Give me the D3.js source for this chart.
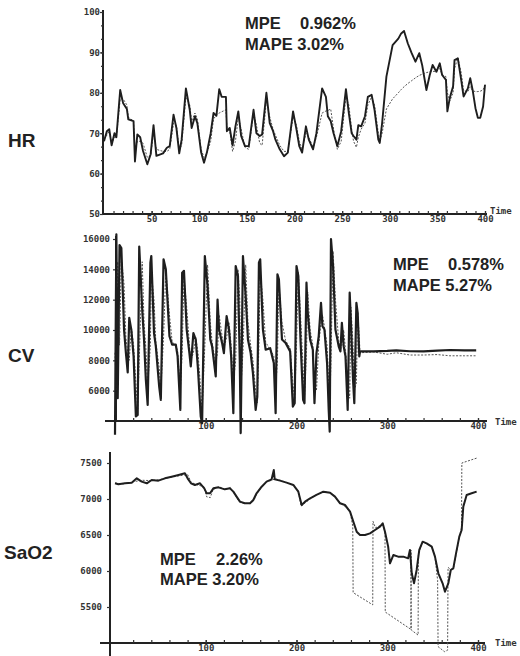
<!DOCTYPE html>
<html><head><meta charset="utf-8">
<script src="https://cdn.jsdelivr.net/npm/d3@7"></script>
<style>
body{margin:0;background:#fff;}
svg{display:block;}
.tick text{font-family:"DejaVu Sans Mono",monospace;font-weight:bold;font-size:9px;fill:#333;}
.big{font-family:"Liberation Sans",Arial,sans-serif;font-weight:bold;fill:#222;}
.tm{font-family:"DejaVu Sans Mono",monospace;font-weight:bold;font-size:9px;fill:#333;}
</style></head><body>
<svg id="chart" width="520" height="656"></svg>
<script>
// ---------- DATA ----------
const panelLabels = ["HR", "CV", "SaO2"];
const mpeValues = ["0.962%", "0.578%", "2.26%"];
const mapeValues = ["3.02%", "5.27%", "3.20%"];

const hrTime = [0,3,5.5,8,11,13,17,20,24,25.5,31,32.5,35,38,41,45.5,49,52,55,62,66,69,73,76,79,81.5,86,90,92,95.5,98,102,105,108,112,115,118,121,123.5,128,129,132,135,138,141,144,148,152,157,160,163.5,166,170.5,174,177.5,180,184.5,189,193,198.5,202,205,208,212,215,219.5,223,229,233,235,238,241,245,249,254,257,260,262,265,267,270,274,277,281,284,288,289.5,292,296.5,303,309,312,315,319,323,327,331,334,338.5,342,345,349,352.5,355,359,360.5,363,366.5,368,371.5,375,377.5,382,384.5,387,390,392.5,395,398,400];
const hrActual = [68,70.5,71,67,70,69,80.7,77.5,76,73.4,
 73,63,69.7,69,65.6,62.3,64.8,72,64.4,65,
 66.4,66.8,74.6,71.3,65,68.4,81.1,75.8,71.3,74.2,
 72.5,65.2,62.7,65.2,70,75,74.3,80.9,79,79,
 70.5,71.3,67,71.7,75.4,69.3,66.8,66.8,75.8,70,
 69.3,69.7,80,72.5,70.5,68.4,66,64.3,65.2,75.4,
 71,66.8,65.2,71.7,68.4,66,70,81.1,79,74.2,
 73,70,66.8,70.5,80.9,75,70,69.3,68.4,72,
 71.7,74.2,79,79.5,75.8,68.4,67.6,72.5,84,91.8,
 93.4,94.7,95.3,92.2,89.8,87.7,89.8,86.9,80.7,84.4,
 86.9,85.2,87.3,84.4,83.2,75.4,78.7,81.6,88.1,88.5,
 83.2,79.1,81.1,83.6,80.7,76.2,73.8,73.8,76.6,82];
const hrPred = [68.5,69.5,70.5,67.5,69,69,78.5,78.5,77,74,
 73,66,68,68,67.5,64,64.5,70,66,65.5,
 65.5,66,72.5,72,66,67,79,77,73,75,
 73.5,66,64,65,68,73.5,74.5,75,75.3,75.8,
 71.5,70.5,65.5,68,74,71,66.5,66,75,72,
 67.5,67,78,74,71,69.5,67,65.5,65.5,74,
 72,68,66,70,69,66.5,69,75,75.5,75.6,
 76,71,66,68,79,77,71,68,66.5,69,
 71,72.5,77,79,77,70,68,70,76,78.5,
 80,80.8,81.5,82.3,83,83.7,84.3,84.6,85,85.2,
 85.3,85.3,86,84.5,84,80,78,80,86,88.7,
 85,80.5,80.3,81.5,80.5,80.3,80.3,80.4,80.7,82];
const hrXTicks = [50,100,150,200,250,300,350,400];
const hrYTicks = [50,60,70,80,90,100];

const cvTime = [0,1.5,3,5,7,10,12,14,15.7,18,
 20.5,23,25,26.7,30,32,34,36,39,40,
 43,45,48.7,50.5,53.5,56,60,63,67,69,
 72,74,76,79,82,83.5,86.4,89,91.5,94.5,
 96,99,102,105,107,111,113,114.7,118,120,
 123,125.6,128,130.4,133,135.5,137.5,138.5,141,144,
 146.5,149.5,152,155,156.8,158.6,160,163,166,171,
 175,177,179,180.6,184,188,193,196,198,200,
 202,204.4,207.3,208.8,211,212.4,215,218,219.8,222,
 224.5,227,228.6,230.8,233.7,235.5,236.6,238,240.3,242.9,
 246.5,248.4,250,252,254,256.4,258.6,260,262.3,263.7,
 266,267.4,269.2,270,285,300,310,325,340,355,
 369,385,398];
const cvActual = [3100,16300,5500,15600,15400,10000,8500,7200,10800,10000,
 8260,4300,4400,15500,11350,9360,6720,5060,14440,14880,
 9800,8920,6270,5390,14660,14000,9590,9030,9030,8260,
 4730,13780,13900,10030,8480,7600,9800,9370,7380,4290,
 3850,14880,12900,9370,8920,6940,12000,10030,9150,8480,
 10910,10030,8260,4510,14220,13560,8000,3200,14880,12240,
 9370,8480,7160,4730,5610,14440,14660,10030,8700,8800,
 7820,4510,13670,13340,9370,9150,8590,4950,5170,14220,
 13560,9370,5390,5170,13120,11130,9370,8700,5170,8480,
 9590,11790,10250,10030,7820,4730,3300,16000,14220,10030,
 8920,8590,10470,8920,8260,4730,12460,10470,6720,5170,
 11790,11130,8260,8590,8590,8620,8660,8600,8590,8640,
 8680,8660,8660];
const cvPred = [8500,6000,14500,9000,14800,13000,9500,8500,8000,10200,
 9000,6500,4800,8000,14500,10500,8800,6200,9000,13800,
 12000,9200,7500,6000,9500,14000,11000,9200,9000,8600,
 6000,8500,13500,11500,9000,8000,8500,9500,8500,6000,
 4500,9000,14300,10500,9200,7800,8500,11000,9600,8800,
 9500,10500,9000,6500,8000,14000,12000,6000,8500,14300,
 10500,9000,8000,6000,5200,9000,13800,12000,9200,8700,
 8300,6000,8000,13000,10500,9300,8800,6500,5300,9000,
 13800,11000,7500,5500,8500,12500,10000,9000,6500,6000,
 9000,10500,11000,10200,9000,6500,4800,8000,15200,12000,
 9300,8700,9000,10000,8700,6500,5500,11500,9000,6000,
 6500,11200,9500,8500,8550,8400,8500,8350,8350,8380,
 8300,8300,8300];
const cvXTicks = [100,200,300,400];
const cvYTicks = [6000,8000,10000,12000,14000,16000];

const saTime = [0,3.7,11,18.4,24,29.4,35,40.4,47.8,55,
 62.4,70,77,80,83.7,88,93.7,98.4,101,104.7,
 108.4,114,121,126.7,130.4,134,137.7,143,148.8,152.4,
 156,161.6,167,172.6,175,176,181.8,189,196.5,202,
 205.7,209.4,215,222,229.6,237,242.4,248,253.4,259,
 262.6,266.3,270,275.5,281,286.5,292,295,297.5,301,
 303,306.7,312,317.7,323,325,327,329.5,332.4,335.3,
 339,343.4,349,352.6,356.3,361,363.6,367.3,370,372.8,
 375.8,379.4,382,383.8,387.5,393,398.5];
const saActual = [7218,7204,7218,7227,7287,7241,7218,7264,7255,7287,
 7310,7334,7357,7287,7218,7195,7218,7148,7079,7079,
 7148,7162,7134,7148,7102,7033,6963,6940,6940,6986,
 7079,7171,7241,7273,7403,7273,7255,7227,7195,7102,
 6917,6963,7010,7056,7102,7088,7033,6940,6917,6824,
 6685,6546,6500,6500,6523,6570,6616,6662,6546,6338,
 6107,6222,6199,6199,6176,6292,5968,5829,6014,6292,
 6407,6384,6338,6199,5968,5829,5713,5829,6014,6037,
 6245,6477,6570,6894,7056,7079,7102];
const saPredTime = [0,10,20,30,40,50,60,70,80,84,
 90,98,101,105,108,115,121,127,131,135,
 138,143,149,153,156,162,167,173,176,182,
 189,196,202,205,209,215,222,230,237,242,
 248,253,259,262,262.4,284,284.3,287,292,295,
 297.5,297.8,326,326.2,326.5,334,334.3,336,339,343.4,
 349,352.6,355.5,356,363,366.5,367,370,373,376,
 379.4,381.8,382.2,399];
const saPred = [7220,7210,7240,7260,7255,7270,7300,7320,7340,7230,
 7200,7170,7030,7020,7130,7170,7130,7160,7090,7000,
 6950,6940,6935,6980,7070,7170,7240,7260,7280,7260,
 7230,7200,7110,6900,6940,7000,7060,7100,7090,7040,
 6950,6900,6830,6620,5700,5530,6690,6600,6630,6660,
 6540,5430,5190,6290,5180,5110,6250,6300,6400,6380,
 6340,6200,5870,4950,4880,4900,6050,6020,6040,6240,
 6470,6600,7500,7570];
const saXTicks = [100,200,300,400];
const saYTicks = [5500,6000,6500,7000,7500];

// ---------- LAYOUT ----------
const panels = [
 {time:hrTime, actual:hrActual, predTime:hrTime, pred:hrPred,
  xDomain:[0,400], xRange:[104,485], yDomain:[50,100], yRange:[214,12],
  xTicks:hrXTicks, xMinorStep:10, yTicks:hrYTicks, yMinorStep:10/3,
  axisXExt:[103,487], axisYExt:[10,214], yAxisX:103, yPad:0, lw:1.9,
  labelX:8, labelY:147, mpeX:245, numX:300, mpeY:[29,50], timeX:490, timeY:214},
 {time:cvTime, actual:cvActual, predTime:cvTime, pred:cvPred,
  xDomain:[0,400], xRange:[115,478], yDomain:[4000,16000], yRange:[421,239],
  xTicks:cvXTicks, xMinorStep:20, yTicks:cvYTicks, yMinorStep:null,
  axisXExt:[105,487], axisYExt:[236,421], yAxisX:116, yPad:3, lw:2.2,
  labelX:8, labelY:362, mpeX:393, numX:448, mpeY:[270,291], timeX:495, timeY:425},
 {time:saTime, actual:saActual, predTime:saPredTime, pred:saPred,
  xDomain:[0,400], xRange:[115,478], yDomain:[5000,7500], yRange:[643,463],
  xTicks:saXTicks, xMinorStep:20, yTicks:saYTicks, yMinorStep:null,
  axisXExt:[100,485], axisYExt:[452,656], yAxisX:110, yPad:5, lw:2,
  labelX:4, labelY:559, mpeX:160, numX:216, mpeY:[565,585], timeX:495, timeY:646}
];

const svg = d3.select("#chart");

panels.forEach((p, i) => {
  const x = d3.scaleLinear().domain(p.xDomain).range(p.xRange);
  const y = d3.scaleLinear().domain(p.yDomain).range(p.yRange);
  const g = svg.append("g");
  const axisY0 = p.yRange[0];

  g.append("line").attr("x1", p.axisXExt[0]).attr("x2", p.axisXExt[1])
    .attr("y1", axisY0).attr("y2", axisY0).attr("stroke", "#222").attr("stroke-width", 2);
  g.append("line").attr("x1", p.yAxisX).attr("x2", p.yAxisX)
    .attr("y1", p.axisYExt[0]).attr("y2", p.axisYExt[1]).attr("stroke", "#222").attr("stroke-width", 2);

  const xMinor = d3.range(p.xMinorStep, p.xDomain[1] + 0.1, p.xMinorStep);
  g.append("g").attr("transform", `translate(0,${axisY0})`)
    .call(d3.axisBottom(x).tickValues(xMinor).tickSize(-3).tickFormat(""))
    .call(s => s.select(".domain").remove())
    .call(s => s.selectAll("line").attr("stroke", "#333").attr("stroke-width", 1.2));
  g.append("g").attr("transform", `translate(0,${axisY0})`)
    .call(d3.axisBottom(x).tickValues(p.xTicks).tickSize(-3).tickPadding(2))
    .call(s => s.select(".domain").remove())
    .call(s => s.selectAll("line").attr("stroke", "#333").attr("stroke-width", 1.2));

  if (p.yMinorStep) {
    const yMinor = d3.range(p.yDomain[0], p.yDomain[1] + 0.01, p.yMinorStep);
    g.append("g").attr("transform", `translate(${p.yAxisX},0)`)
      .call(d3.axisLeft(y).tickValues(yMinor).tickSize(2).tickFormat(""))
      .call(s => s.select(".domain").remove())
      .call(s => s.selectAll("line").attr("stroke", "#333").attr("stroke-width", 1.2));
  }
  g.append("g").attr("transform", `translate(${p.yAxisX},0)`)
    .call(d3.axisLeft(y).tickValues(p.yTicks).tickSize(3).tickPadding(p.yPad).tickFormat(d3.format("d")))
    .call(s => s.select(".domain").remove())
    .call(s => s.selectAll("line").attr("stroke", "#333").attr("stroke-width", 1.2));

  const line = d3.line().x(d => x(d[0])).y(d => y(d[1]));
  const predData = p.predTime.map((t, k) => [t, p.pred[k]]);
  const actData = p.time.map((t, k) => [t, p.actual[k]]);
  g.append("path").datum(predData).attr("d", line)
    .attr("fill", "none").attr("stroke", "#555").attr("stroke-width", 1)
    .attr("stroke-dasharray", "2,1.5");
  g.append("path").datum(actData).attr("d", line)
    .attr("fill", "none").attr("stroke", "#1e1e1e").attr("stroke-width", p.lw)
    .attr("stroke-linejoin", "round");

  g.append("text").attr("class", "tm").attr("x", p.timeX).attr("y", p.timeY).text("Time");

  g.append("text").attr("class", "big").attr("x", p.labelX).attr("y", p.labelY)
    .attr("font-size", 19).text(panelLabels[i]);

  g.append("text").attr("class", "big").attr("x", p.mpeX).attr("y", p.mpeY[0])
    .attr("font-size", 16.5).text("MPE");
  g.append("text").attr("class", "big").attr("x", p.numX).attr("y", p.mpeY[0])
    .attr("font-size", 16.5).text(mpeValues[i]);
  g.append("text").attr("class", "big").attr("x", p.mpeX).attr("y", p.mpeY[1])
    .attr("font-size", 16.5).text("MAPE " + mapeValues[i]);
});
</script>
</body></html>
